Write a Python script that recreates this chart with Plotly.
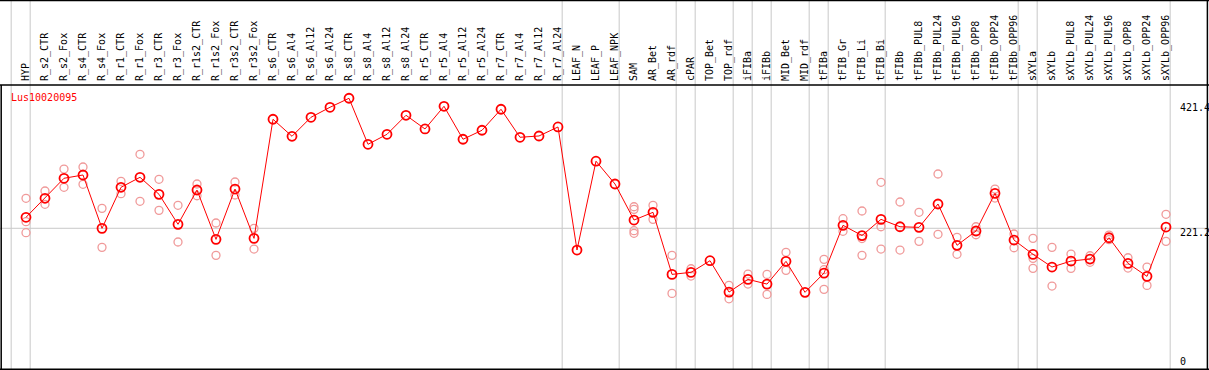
import plotly.graph_objects as go

categories = ["HYP", "R_s2_CTR", "R_s2_Fox", "R_s4_CTR", "R_s4_Fox", "R_r1_CTR", "R_r1_Fox",
              "R_r3_CTR", "R_r3_Fox", "R_r1s2_CTR", "R_r1s2_Fox", "R_r3s2_CTR", "R_r3s2_Fox",
              "R_s6_CTR", "R_s6_Al4", "R_s6_Al12", "R_s6_Al24", "R_s8_CTR", "R_s8_Al4", "R_s8_Al12",
              "R_s8_Al24", "R_r5_CTR", "R_r5_Al4", "R_r5_Al12", "R_r5_Al24", "R_r7_CTR", "R_r7_Al4",
              "R_r7_Al12", "R_r7_Al24", "LEAF_N", "LEAF_P", "LEAF_NPK", "SAM", "AR_Bet", "AR_rdf",
              "cPAR", "TOP_Bet", "TOP_rdf", "iFIBa", "iFIBb", "MID_Bet", "MID_rdf", "tFIBa",
              "tFIB_Gr", "tFIB_Li", "tFIB_Bi", "tFIBb", "tFIBb_PUL8", "tFIBb_PUL24", "tFIBb_PUL96",
              "tFIBb_OPP8", "tFIBb_OPP24", "tFIBb_OPP96", "sXYLa", "sXYLb", "sXYLb_PUL8",
              "sXYLb_PUL24", "sXYLb_PUL96", "sXYLb_OPP8", "sXYLb_OPP24", "sXYLb_OPP96"]

means = [238.9, 269.5, 301.7, 307.0, 221.1, 287.2, 303.3, 275.9, 227.6, 282.8, 203.4, 284.4, 205.0,
         396.7, 369.3, 399.9, 416.0, 430.5, 356.4, 372.5, 403.1, 381.1, 417.6, 364.5, 379.0,
         412.8, 367.7, 369.8, 384.3, 186.2, 329.2, 292.5, 234.5, 246.9, 147.0, 150.3, 169.0,
         118.5, 139.0, 131.4, 168.0, 118.1, 149.1, 226.0, 209.5, 235.6, 223.7, 222.7, 260.3,
         193.8, 216.8, 277.5, 202.3, 179.3, 158.8, 168.5, 171.7, 206.0, 164.8, 143.8, 223.2]

N = None
rep_a = [269.5, 281.2, 316.6, 319.9, 253.3, 296.8, 340.3, 300.1, 258.2, 292.5, 229.7, 295.7, 221.1,
         N, N, N, N, N, N, N, N, N, N, N, N, N, N, N, N, N, N, N,
         255.9, 258.2, 177.6, 156.1, N, 129.3, 147.5, 147.0, 182.5, N, 171.2, 236.6, 249.0, 295.2,
         263.5, 246.9, 308.6, 206.6, 223.7, 284.4, 212.0, 205.0, 190.5, 179.7, 177.0, 210.3,
         173.8, 158.8, 243.7]
rep_b = [231.8, 259.8, 287.2, 292.0, 190.5, 276.9, 264.6, 250.1, 199.1, 273.6, 177.6, 274.8, 187.8,
         N, N, N, N, N, N, N, N, N, N, N, N, N, N, N, N, N, N, N,
         251.7, 235.6, 116.4, 144.3, N, 107.7, 131.4, 114.8, 153.5, N, 154.5, 216.3, 204.7, 223.7,
         186.2, 200.2, 211.5, 179.3, 210.8, 269.9, 189.9, 172.8, 128.2, 156.7, 166.4, 202.8,
         157.2, 129.3, 200.2]
rep_c = [214.1] + [N] * 31 + [217.3] + [N] * 9 + [122.9, N, 177.6, 187.8] + [N] * 7 + [156.7] + [N] * 7
rep_d = [N] * 32 + [213.1] + [N] * 28

right_ticks = [421.4, 221.2, 0]
gene = "Lus10020095"
group_ends = [-1, 0, 28, 31, 34, 35, 37, 38, 39, 41, 42, 45, 52, 53, 60]

W, H = 1209, 370
TOP = 85
x = list(range(len(categories)))
FONT = "DejaVu Sans Mono"

fig = go.Figure()
rep_color = "#F09A9A"
for reps in (rep_a, rep_b, rep_c, rep_d):
    fig.add_trace(go.Scatter(x=x, y=reps, mode="markers",
                             marker=dict(symbol="circle-open", size=8, color=rep_color,
                                         line=dict(color=rep_color, width=1.3)),
                             showlegend=False, hoverinfo="skip"))
fig.add_trace(go.Scatter(x=x, y=means, mode="lines+markers",
                         line=dict(color="#FF0000", width=1),
                         marker=dict(symbol="circle-open", size=9, color="#FF0000",
                                     line=dict(color="#FF0000", width=1.8)),
                         showlegend=False))

shapes = []
for g in group_ends:
    shapes.append(dict(type="line", xref="x", yref="paper", x0=g + 0.22, x1=g + 0.22,
                       y0=0, y1=1, line=dict(color="#C8C8C8", width=1), layer="below"))
shapes.append(dict(type="line", xref="paper", yref="y", x0=0, x1=1, y0=221.2, y1=221.2,
                   line=dict(color="#C8C8C8", width=1), layer="below"))
ydom = (H - TOP) / H
border = dict(color="black", width=1.5)
# separator below labels, top edge, right edge, bottom edge, left edge of plot
shapes.append(dict(type="line", xref="paper", yref="paper", x0=0, x1=1, y0=ydom, y1=ydom, line=border))
shapes.append(dict(type="line", xref="paper", yref="paper", x0=0, x1=1, y0=1 - 0.6 / H, y1=1 - 0.6 / H, line=border))
shapes.append(dict(type="line", xref="paper", yref="paper", x0=1 - 1.6 / W, x1=1 - 1.6 / W, y0=0, y1=1, line=border))
shapes.append(dict(type="line", xref="paper", yref="paper", x0=0, x1=1, y0=0.8 / H, y1=0.8 / H, line=border))
shapes.append(dict(type="line", xref="paper", yref="paper", x0=1.2 / W, x1=1.2 / W, y0=0, y1=ydom, line=border))

ann = [dict(text=gene, x=9 / W, y=1 - 97.5 / H, xref="paper", yref="paper", xanchor="left",
            yanchor="middle", showarrow=False, font=dict(family=FONT, size=10, color="#FF0000"))]
for t in right_ticks:
    ann.append(dict(text=str(t) if t else "0", x=1178 / W, y=t, xref="paper", yref="y",
                    xanchor="left", yanchor="middle", yshift=-4 if t else 4, showarrow=False,
                    font=dict(family=FONT, size=10, color="black")))

x0 = (0 - 26) / 19
x1 = (W - 26) / 19
y_per_px = 0.6212
fig.update_layout(
    width=W, height=H, margin=dict(l=0, r=0, t=0, b=0),
    paper_bgcolor="white", plot_bgcolor="white",
    shapes=shapes, annotations=ann,
    xaxis=dict(range=[x0, x1], domain=[0, 1], side="top", tickmode="array", tickvals=x,
               ticktext=categories, tickangle=-90, showgrid=False, zeroline=False,
               showline=False, ticks="", automargin=False, ticklabelstandoff=3,
               tickfont=dict(family=FONT, size=10, color="black")),
    yaxis=dict(range=[-(H - 365.7) / y_per_px, (365.7 - TOP) / y_per_px], domain=[0, ydom],
               showgrid=False, zeroline=False, showticklabels=False, showline=False),
)
fig.write_html("out.html", config={"displayModeBar": False},
               post_script="document.body.style.margin='0';document.body.style.overflow='hidden';")
